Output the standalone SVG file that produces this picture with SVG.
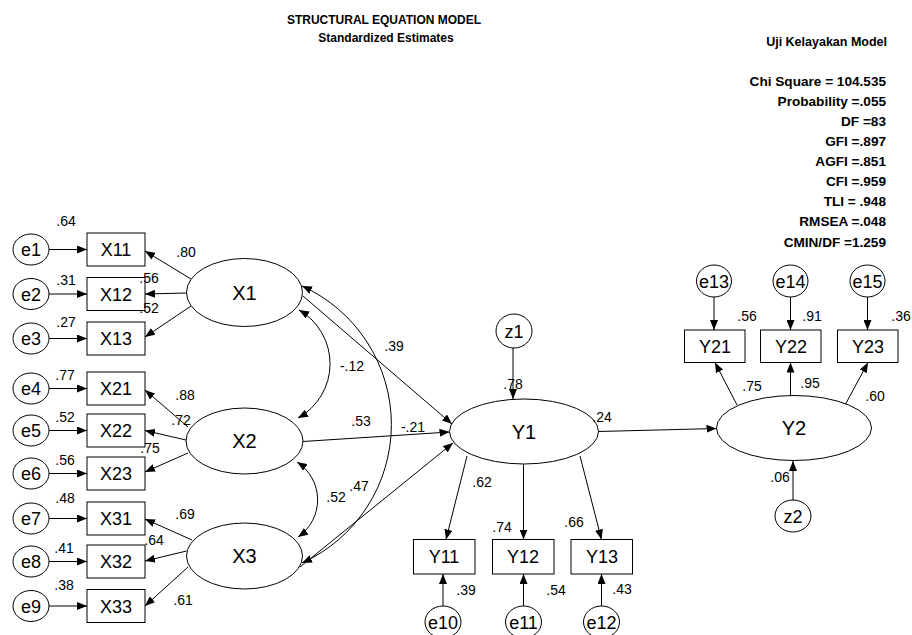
<svg xmlns="http://www.w3.org/2000/svg" width="912" height="635" viewBox="0 0 912 635">
<defs>
<marker id="ah" viewBox="0 0 10 8" refX="10" refY="4" markerWidth="10" markerHeight="8" markerUnits="userSpaceOnUse" orient="auto-start-reverse"><path d="M0,0 L10,4 L0,8 z" fill="#000"/></marker>
<style>
text{font-family:"Liberation Sans",Arial,sans-serif;fill:#000}
.t{font-size:12px;font-weight:bold;text-anchor:middle}
.u{font-size:12.5px;font-weight:bold;text-anchor:end}
.s{font-size:13.6px;font-weight:bold;text-anchor:end}
.n{font-size:18px;text-anchor:middle}
.l{font-size:20px;text-anchor:middle}
.v{font-size:14px;text-anchor:middle}
.sh{fill:#fff;stroke:#000;stroke-width:1}
.c line,.c path{stroke:#000;stroke-width:1;fill:none;marker-end:url(#ah)}
.c path.d{marker-start:url(#ah)}
</style>
</defs>
<rect width="912" height="635" fill="#fff"/>
<g id="title">
<text class="t" x="384" y="24">STRUCTURAL EQUATION MODEL</text>
<text class="t" x="386" y="42">Standardized Estimates</text>
<text class="u" x="887" y="46">Uji Kelayakan Model</text>
</g>
<g id="fit">
<text class="s" x="886" y="86">Chi Square = 104.535</text>
<text class="s" x="886" y="106">Probability =.055</text>
<text class="s" x="886" y="126">DF =83</text>
<text class="s" x="886" y="146">GFI =.897</text>
<text class="s" x="886" y="166">AGFI =.851</text>
<text class="s" x="886" y="186">CFI =.959</text>
<text class="s" x="886" y="206">TLI = .948</text>
<text class="s" x="886" y="226">RMSEA =.048</text>
<text class="s" x="886" y="247">CMIN/DF =1.259</text>
</g>
<g id="connectors" class="c">
<line x1="49" y1="249.5" x2="87" y2="249.5"/>
<line x1="49" y1="294" x2="87" y2="294"/>
<line x1="49" y1="338.5" x2="87" y2="338.5"/>
<line x1="49" y1="388.5" x2="87" y2="388.5"/>
<line x1="49" y1="430.5" x2="87" y2="430.5"/>
<line x1="49" y1="473.5" x2="87" y2="473.5"/>
<line x1="49" y1="518.5" x2="87" y2="518.5"/>
<line x1="49" y1="561.5" x2="87" y2="561.5"/>
<line x1="49" y1="606" x2="87" y2="606"/>
<line x1="191" y1="279" x2="145" y2="251"/>
<line x1="186.5" y1="293" x2="145" y2="294"/>
<line x1="191" y1="306" x2="145" y2="337"/>
<line x1="188" y1="427" x2="145" y2="390"/>
<line x1="186" y1="440" x2="145" y2="430.5"/>
<line x1="188" y1="453" x2="145" y2="472"/>
<line x1="192" y1="540" x2="145" y2="519"/>
<line x1="186.5" y1="551" x2="145" y2="561"/>
<line x1="188" y1="567" x2="145" y2="606"/>
<path class="d" d="M302,286 A152,152 0 0 1 302,563"/>
<path class="d" d="M299,310 A62,62 0 0 1 298,418"/>
<path class="d" d="M297,462 A45,45 0 0 1 298,537"/>
<line x1="303" y1="296" x2="452" y2="424"/>
<line x1="303" y1="441.5" x2="449.5" y2="432"/>
<line x1="300" y1="567" x2="453" y2="443"/>
<line x1="598" y1="431.5" x2="716.5" y2="428.5"/>
<line x1="513" y1="348" x2="513" y2="399"/>
<line x1="793" y1="500" x2="793" y2="461"/>
<line x1="467" y1="456" x2="446" y2="539.5"/>
<line x1="523.5" y1="464" x2="523.5" y2="539.5"/>
<line x1="580" y1="456" x2="601.5" y2="539.5"/>
<line x1="443" y1="606" x2="443" y2="574"/>
<line x1="523.5" y1="606" x2="523.5" y2="574"/>
<line x1="601.5" y1="606" x2="601.5" y2="574"/>
<line x1="714" y1="297" x2="714" y2="330"/>
<line x1="790.5" y1="297" x2="790.5" y2="330"/>
<line x1="867.5" y1="297" x2="867.5" y2="330"/>
<line x1="737" y1="405" x2="715" y2="362.5"/>
<line x1="790.5" y1="395.5" x2="790.5" y2="362.5"/>
<line x1="845" y1="405" x2="868" y2="362.5"/>
</g>
<g id="e1"><ellipse class="sh" cx="31" cy="249.5" rx="18" ry="15.5"/><text class="n" x="31" y="256">e1</text></g>
<g id="e2"><ellipse class="sh" cx="31" cy="294" rx="18" ry="15.5"/><text class="n" x="31" y="300.5">e2</text></g>
<g id="e3"><ellipse class="sh" cx="31" cy="338.5" rx="18" ry="15.5"/><text class="n" x="31" y="345">e3</text></g>
<g id="e4"><ellipse class="sh" cx="31" cy="388.5" rx="18" ry="15.5"/><text class="n" x="31" y="395">e4</text></g>
<g id="e5"><ellipse class="sh" cx="31" cy="430.5" rx="18" ry="15.5"/><text class="n" x="31" y="437">e5</text></g>
<g id="e6"><ellipse class="sh" cx="31" cy="473.5" rx="18" ry="15.5"/><text class="n" x="31" y="480">e6</text></g>
<g id="e7"><ellipse class="sh" cx="31" cy="518.5" rx="18" ry="15.5"/><text class="n" x="31" y="525">e7</text></g>
<g id="e8"><ellipse class="sh" cx="31" cy="561.5" rx="18" ry="15.5"/><text class="n" x="31" y="568">e8</text></g>
<g id="e9"><ellipse class="sh" cx="31" cy="606" rx="18" ry="15.5"/><text class="n" x="31" y="612.5">e9</text></g>
<g id="X11"><rect class="sh" x="87" y="233" width="58" height="33"/><text class="n" x="116" y="256">X11</text></g>
<g id="X12"><rect class="sh" x="87" y="277.5" width="58" height="33"/><text class="n" x="116" y="300.5">X12</text></g>
<g id="X13"><rect class="sh" x="87" y="322" width="58" height="33"/><text class="n" x="116" y="345">X13</text></g>
<g id="X21"><rect class="sh" x="87" y="372" width="58" height="33"/><text class="n" x="116" y="395">X21</text></g>
<g id="X22"><rect class="sh" x="87" y="414" width="58" height="33"/><text class="n" x="116" y="437">X22</text></g>
<g id="X23"><rect class="sh" x="87" y="457" width="58" height="33"/><text class="n" x="116" y="480">X23</text></g>
<g id="X31"><rect class="sh" x="87" y="502" width="58" height="33"/><text class="n" x="116" y="525">X31</text></g>
<g id="X32"><rect class="sh" x="87" y="545" width="58" height="33"/><text class="n" x="116" y="568">X32</text></g>
<g id="X33"><rect class="sh" x="87" y="589.5" width="58" height="33"/><text class="n" x="116" y="612.5">X33</text></g>
<g id="X1"><ellipse class="sh" cx="244.5" cy="292.5" rx="58" ry="34"/><text class="l" x="244.5" y="299.5">X1</text></g>
<g id="X2"><ellipse class="sh" cx="244.5" cy="441" rx="58.5" ry="33"/><text class="l" x="244.5" y="448">X2</text></g>
<g id="X3"><ellipse class="sh" cx="244.5" cy="556" rx="58" ry="33"/><text class="l" x="244.5" y="563">X3</text></g>
<g id="z1"><ellipse class="sh" cx="514" cy="331" rx="18" ry="17"/><text class="n" x="514" y="337.5">z1</text></g>
<g id="Y1"><ellipse class="sh" cx="524" cy="431.5" rx="74.5" ry="32.5"/><text class="l" x="524" y="438.5">Y1</text></g>
<g id="Y11"><rect class="sh" x="413.5" y="539.5" width="61.5" height="34.5"/><text class="n" x="444" y="563">Y11</text></g>
<g id="Y12"><rect class="sh" x="492.5" y="539.5" width="61.5" height="34.5"/><text class="n" x="523" y="563">Y12</text></g>
<g id="Y13"><rect class="sh" x="571" y="539.5" width="61.5" height="34.5"/><text class="n" x="602" y="563">Y13</text></g>
<g id="e10"><ellipse class="sh" cx="443" cy="622" rx="18" ry="16"/><text class="n" x="443" y="628.5">e10</text></g>
<g id="e11"><ellipse class="sh" cx="523.5" cy="622" rx="18" ry="16"/><text class="n" x="523.5" y="628.5">e11</text></g>
<g id="e12"><ellipse class="sh" cx="601.5" cy="622" rx="18" ry="16"/><text class="n" x="601.5" y="628.5">e12</text></g>
<g id="Y2"><ellipse class="sh" cx="794" cy="428" rx="77.5" ry="32.5"/><text class="l" x="794" y="435">Y2</text></g>
<g id="z2"><ellipse class="sh" cx="793" cy="516" rx="18" ry="16"/><text class="n" x="793" y="522.5">z2</text></g>
<g id="Y21"><rect class="sh" x="684.5" y="330" width="60.5" height="32.5"/><text class="n" x="715" y="353">Y21</text></g>
<g id="Y22"><rect class="sh" x="760.5" y="330" width="60.5" height="32.5"/><text class="n" x="791" y="353">Y22</text></g>
<g id="Y23"><rect class="sh" x="837.5" y="330" width="60.5" height="32.5"/><text class="n" x="868" y="353">Y23</text></g>
<g id="e13"><ellipse class="sh" cx="714" cy="281" rx="17.5" ry="16"/><text class="n" x="714" y="287.5">e13</text></g>
<g id="e14"><ellipse class="sh" cx="790.5" cy="281" rx="17.5" ry="16"/><text class="n" x="790.5" y="287.5">e14</text></g>
<g id="e15"><ellipse class="sh" cx="867.5" cy="281" rx="17.5" ry="16"/><text class="n" x="867.5" y="287.5">e15</text></g>
<g id="values" class="v">
<text x="66" y="226">.64</text>
<text x="66" y="285">.31</text>
<text x="66" y="327">.27</text>
<text x="65" y="380">.77</text>
<text x="65" y="422">.52</text>
<text x="65" y="465">.56</text>
<text x="65" y="503">.48</text>
<text x="64" y="553">.41</text>
<text x="64" y="590">.38</text>
<text x="186" y="257">.80</text>
<text x="149" y="283">.56</text>
<text x="149" y="313">.52</text>
<text x="185" y="400">.88</text>
<text x="181" y="425">.72</text>
<text x="150" y="453">.75</text>
<text x="185" y="519">.69</text>
<text x="154" y="545">.64</text>
<text x="183" y="605">.61</text>
<text x="394" y="351">.39</text>
<text x="352" y="371">-.12</text>
<text x="361" y="426">.53</text>
<text x="413" y="432">-.21</text>
<text x="336" y="502">.52</text>
<text x="359" y="491">.47</text>
<text x="513" y="389">.78</text>
<text x="602" y="422">.24</text>
<text x="482" y="487">.62</text>
<text x="502" y="532">.74</text>
<text x="574" y="527">.66</text>
<text x="466" y="595">.39</text>
<text x="556" y="595">.54</text>
<text x="622" y="594">.43</text>
<text x="747" y="321">.56</text>
<text x="812" y="321">.91</text>
<text x="901" y="321">.36</text>
<text x="752" y="391">.75</text>
<text x="810" y="388">.95</text>
<text x="875" y="401">.60</text>
<text x="780" y="482">.06</text>
</g>
</svg>
